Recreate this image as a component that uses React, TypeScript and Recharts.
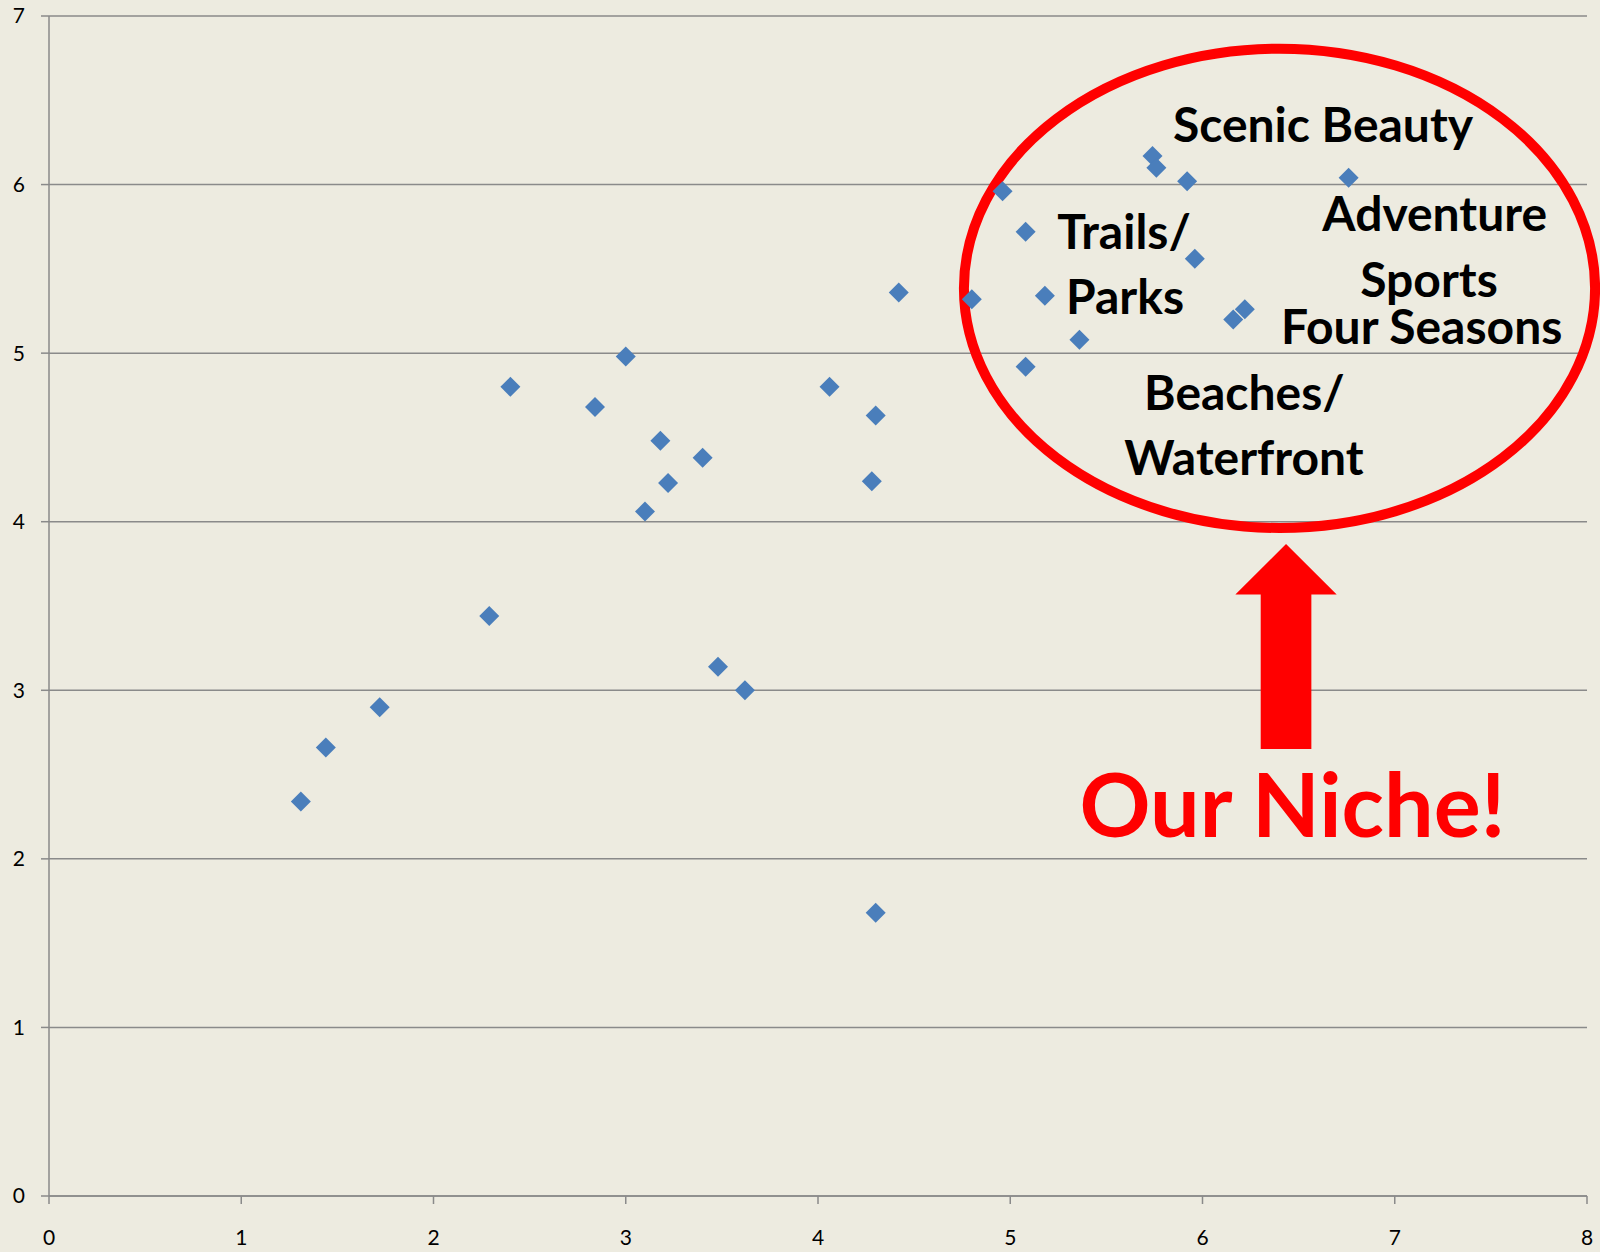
import React from "react";
import {
  ScatterChart,
  Scatter,
  XAxis,
  YAxis,
  CartesianGrid,
  ReferenceArea,
  ReferenceDot,
} from "recharts";

// survey scores, one diamond per attraction
const xScores = [
  1.31, 1.44, 1.72, 2.29, 2.4, 2.84, 3.0, 3.18, 3.1, 3.22, 3.4, 3.48, 3.62,
  4.06, 4.3, 4.28, 4.3, 4.42, 4.8, 4.96, 5.08, 5.08, 5.18, 5.36, 5.74, 5.76,
  5.92, 5.96, 6.16, 6.22, 6.76,
];
const yScores = [
  2.34, 2.66, 2.9, 3.44, 4.8, 4.68, 4.98, 4.48, 4.06, 4.23, 4.38, 3.14, 3.0,
  4.8, 4.63, 4.24, 1.68, 5.36, 5.32, 5.96, 5.72, 4.92, 5.34, 5.08, 6.17, 6.1,
  6.02, 5.56, 5.2, 5.26, 6.04,
];
const xTicks = [0, 1, 2, 3, 4, 5, 6, 7, 8];
const yTicks = [0, 1, 2, 3, 4, 5, 6, 7];

// callout labels inside the circle
const calloutText = [
  "Scenic Beauty",
  "Trails/",
  "Parks",
  "Adventure",
  "Sports",
  "Four Seasons",
  "Beaches/",
  "Waterfront",
];

const points = xScores.map((x, i) => ({ x, y: yScores[i] }));

// where the annotations sit, in chart units
const calloutAt = [
  [6.627, 6.254],
  [5.592, 5.616],
  [5.597, 5.23],
  [7.208, 5.725],
  [7.178, 5.335],
  [7.14, 5.052],
  [6.218, 4.663],
  [6.216, 4.275],
];
const ring = { x1: 4.759, x2: 8.042, y1: 3.963, y2: 6.806 };
const arrow = { x1: 6.171, x2: 6.698, y1: 2.652, y2: 3.868 };
const niche = [6.468, 2.131];

const BG = "#EDEBE0";
const GRID = "#8A8A8A";
const RED = "#FF0000";

const Diamond = (props: any) => {
  const { cx, cy } = props;
  const r = 10;
  return (
    <polygon
      points={`${cx},${cy - r} ${cx + r},${cy} ${cx},${cy + r} ${cx - r},${cy}`}
      fill="#4A7EBB"
    />
  );
};

const Ring = (props: any) => {
  const { x, y, width, height } = props;
  return (
    <ellipse
      cx={x + width / 2}
      cy={y + height / 2}
      rx={width / 2}
      ry={height / 2}
      fill="none"
      stroke={RED}
      strokeWidth={10}
    />
  );
};

const UpArrow = (props: any) => {
  const { x, y, width, height } = props;
  const head = height * 0.247;
  const shaft = width * 0.25;
  const mid = x + width / 2;
  const pts = [
    [mid, y],
    [x + width, y + head],
    [mid + shaft, y + head],
    [mid + shaft, y + height],
    [mid - shaft, y + height],
    [mid - shaft, y + head],
    [x, y + head],
  ]
    .map((p) => p.join(","))
    .join(" ");
  return <polygon points={pts} fill={RED} />;
};

const labelShape = (text: string, size: number, color: string) => (props: any) =>
  (
    <text
      x={props.cx}
      y={props.cy}
      textAnchor="middle"
      fontFamily="Lato, 'Open Sans', sans-serif"
      fontWeight={700}
      fontSize={size}
      fill={color}
    >
      {text}
    </text>
  );

export default function App() {
  return (
    <div
      style={{
        position: "absolute",
        left: 0,
        top: 0,
        width: 1600,
        height: 1252,
        background: BG,
      }}
    >
      <ScatterChart
        width={1600}
        height={1252}
        margin={{ top: 16, right: 13, bottom: 0, left: 0 }}
      >
        <CartesianGrid vertical={false} stroke={GRID} strokeWidth={1.5} />
        <XAxis
          dataKey="x"
          type="number"
          domain={[0, 8]}
          ticks={xTicks}
          height={56}
          tickSize={8}
          tickMargin={26}
          axisLine={{ stroke: GRID, strokeWidth: 1.5 }}
          tickLine={{ stroke: GRID, strokeWidth: 1.5 }}
          tick={{ fontSize: 21, fill: "#000", fontFamily: "Lato, sans-serif" }}
        />
        <YAxis
          dataKey="y"
          type="number"
          domain={[0, 7]}
          ticks={yTicks}
          width={49}
          tickSize={8}
          tickMargin={16}
          axisLine={{ stroke: GRID, strokeWidth: 1.5 }}
          tickLine={{ stroke: GRID, strokeWidth: 1.5 }}
          tick={{ fontSize: 21, fill: "#000", fontFamily: "Lato, sans-serif" }}
        />
        <Scatter data={points} shape={Diamond} isAnimationActive={false} />
        <ReferenceArea
          {...ring}
          ifOverflow="visible"
          shape={Ring}
        />
        <ReferenceArea
          {...arrow}
          ifOverflow="visible"
          shape={UpArrow}
        />
        {calloutText.map((t, i) => (
          <ReferenceDot
            key={t}
            x={calloutAt[i][0]}
            y={calloutAt[i][1]}
            ifOverflow="visible"
            shape={labelShape(t, 48, "#000")}
          />
        ))}
        <ReferenceDot
          x={niche[0]}
          y={niche[1]}
          ifOverflow="visible"
          shape={labelShape("Our Niche!", 88, RED)}
        />
      </ScatterChart>
    </div>
  );
}
